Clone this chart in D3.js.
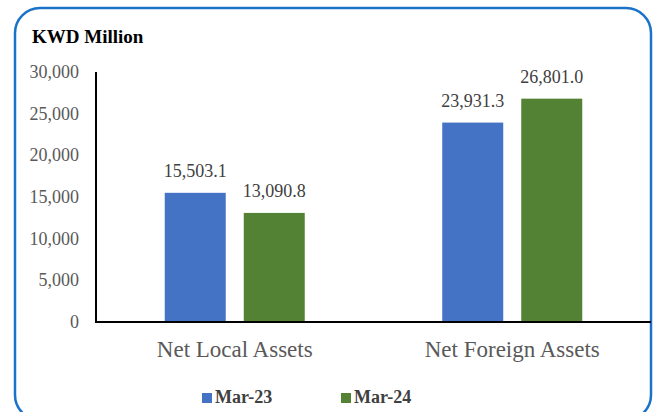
<html>
  <head>
    <meta charset="utf-8">
    <script src="https://cdn.jsdelivr.net/npm/d3@7"></script>
    <script>
      var categories = ["Net Local Assets", "Net Foreign Assets"];
      var seriesNames = ["Mar-23", "Mar-24"];
      var mar23 = [15503.1, 23931.3];
      var mar24 = [13090.8, 26801.0];
      var yTicks = [0, 5000, 10000, 15000, 20000, 25000, 30000];
      var colors = ["#4472c4", "#548235"];

      function load(){
        var svg = d3.select("svg");
        var font = "'Liberation Serif', 'Times New Roman', serif";

        // frame
        svg.append("rect")
            .attr("x", 15).attr("y", 8)
            .attr("width", 636).attr("height", 412)
            .attr("rx", 25).attr("ry", 25)
            .attr("fill", "#fff")
            .attr("stroke", "#1a73c8")
            .attr("stroke-width", 2.5);

        var x = d3.scaleBand().domain(categories).range([96, 651]);
        var inner = d3.scaleBand().domain(seriesNames).range([-70, 70]).paddingInner(0.228);
        var y = d3.scaleLinear().domain([0, 30000]).range([322, 72]);

        svg.append("text")
            .attr("x", 32).attr("y", 43)
            .attr("font-family", font).attr("font-weight", "bold")
            .attr("font-size", 19).attr("fill", "#000")
            .text("KWD Million");

        // y tick labels
        svg.append("g").selectAll("text")
            .data(yTicks)
            .enter().append("text")
            .attr("x", 79).attr("y", function(d) { return y(d) + 6; })
            .attr("text-anchor", "end")
            .attr("font-family", font).attr("font-size", 18)
            .attr("fill", "#595959")
            .text(function(d) { return d3.format(",")(d); });

        var rows = [];
        categories.forEach(function(c, i) {
          rows.push({cat: c, s: 0, v: mar23[i]});
          rows.push({cat: c, s: 1, v: mar24[i]});
        });

        var cx = function(d) { return x(d.cat) + x.bandwidth() / 2 + inner(seriesNames[d.s]); };

        svg.append("g").selectAll("rect")
            .data(rows)
            .enter().append("rect")
            .attr("x", cx)
            .attr("y", function(d) { return y(d.v); })
            .attr("width", inner.bandwidth())
            .attr("height", function(d) { return y(0) - y(d.v); })
            .attr("fill", function(d) { return colors[d.s]; });

        svg.append("g").selectAll("text")
            .data(rows)
            .enter().append("text")
            .attr("x", function(d) { return cx(d) + inner.bandwidth() / 2; })
            .attr("y", function(d) { return y(d.v) - 16; })
            .attr("text-anchor", "middle")
            .attr("font-family", font).attr("font-size", 18)
            .attr("fill", "#404040")
            .text(function(d) { return d3.format(",.1f")(d.v); });

        // axes lines
        svg.append("line")
            .attr("x1", 96).attr("x2", 96).attr("y1", y(30000)).attr("y2", y(0))
            .attr("stroke", "#000").attr("stroke-width", 2);
        svg.append("line")
            .attr("x1", 95).attr("x2", 651).attr("y1", y(0)).attr("y2", y(0))
            .attr("stroke", "#000").attr("stroke-width", 2);

        svg.append("g").selectAll("text")
            .data(categories)
            .enter().append("text")
            .attr("x", function(d) { return x(d) + x.bandwidth() / 2; })
            .attr("y", 357)
            .attr("text-anchor", "middle")
            .attr("font-family", font).attr("font-size", 23)
            .attr("fill", "#595959")
            .text(function(d) { return d; });

        // legend
        var lx = [202, 341];
        var leg = svg.append("g").selectAll("g")
            .data(seriesNames)
            .enter().append("g")
            .attr("transform", function(d, i) { return "translate(" + lx[i] + ",393)"; });
        leg.append("rect")
            .attr("width", 10).attr("height", 10)
            .attr("fill", function(d, i) { return colors[i]; });
        leg.append("text")
            .attr("x", 13).attr("y", 10)
            .attr("font-family", font).attr("font-weight", "bold")
            .attr("font-size", 18).attr("fill", "#404040")
            .text(function(d) { return d; });
      }
    </script>
  </head>
  <body style="margin:0;background-color:#ffffff" onload="load()">
    <svg width="656" height="412"></svg>
  </body>
</html>
